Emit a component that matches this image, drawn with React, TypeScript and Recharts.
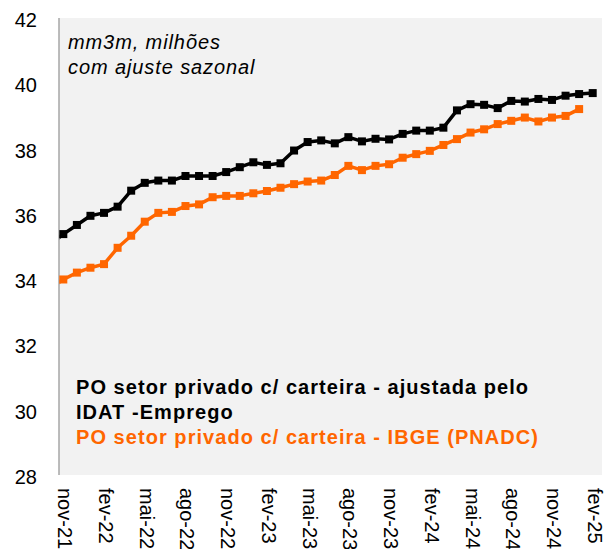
import React from "react";
import { LineChart, Line, XAxis, YAxis, CartesianGrid } from "recharts";

// Categories: one entry per month, out-21 (clipped, before axis) .. fev-25
const months = [
  "out-21", "nov-21", "dez-21",
  "jan-22", "fev-22", "mar-22", "abr-22", "mai-22", "jun-22", "jul-22", "ago-22", "set-22", "out-22", "nov-22", "dez-22",
  "jan-23", "fev-23", "mar-23", "abr-23", "mai-23", "jun-23", "jul-23", "ago-23", "set-23", "out-23", "nov-23", "dez-23",
  "jan-24", "fev-24", "mar-24", "abr-24", "mai-24", "jun-24", "jul-24", "ago-24", "set-24", "out-24", "nov-24", "dez-24",
  "jan-25", "fev-25",
];

// PO setor privado c/ carteira - ajustada pelo IDAT-Emprego (milhões)
const idatValues = [
  35.05, 35.38, 35.66, 35.94, 36.03, 36.22, 36.71, 36.95, 37.02, 37.02, 37.16,
  37.16, 37.16, 37.28, 37.43, 37.58, 37.5, 37.55, 37.94, 38.2, 38.25, 38.16,
  38.35, 38.22, 38.3, 38.28, 38.45, 38.55, 38.55, 38.64, 39.17, 39.36, 39.34,
  39.24, 39.46, 39.44, 39.52, 39.49, 39.62, 39.67, 39.7,
];

// PO setor privado c/ carteira - IBGE (PNADC) (milhões)
const ibgeValues: (number | null)[] = [
  33.7, 33.99, 34.2, 34.35, 34.46, 34.96, 35.33, 35.76, 36.03, 36.06, 36.24,
  36.29, 36.51, 36.55, 36.55, 36.63, 36.7, 36.8, 36.91, 36.99, 37.02, 37.19,
  37.47, 37.34, 37.47, 37.52, 37.72, 37.83, 37.93, 38.11, 38.29, 38.49, 38.59,
  38.75, 38.85, 38.95, 38.83, 38.95, 39.0, 39.21, null,
];

const yTicks = [28, 30, 32, 34, 36, 38, 40, 42];
const xTickIndices = [0, 3, 6, 9, 12, 15, 18, 21, 24, 27, 30, 33, 36, 39];

const noteLines = ["mm3m, milhões", "com ajuste sazonal"];
const legendIdat = ["PO setor privado c/ carteira - ajustada pelo", "IDAT -Emprego"];
const legendIbge = "PO setor privado c/ carteira - IBGE (PNADC)";

const data = months.map((m, k) => ({
  i: k - 1,
  label: m,
  idat: idatValues[k],
  ibge: ibgeValues[k],
}));

const W = 611;
const H = 549;
const PLOT_LEFT = 59;
const PLOT_TOP = 18;
const PLOT_BOTTOM = 475;
const PLOT_RIGHT = 602;
const FONT = "'Liberation Sans', Arial, Helvetica, sans-serif";
const BLACK = "#000000";
const ORANGE = "#ff6600";

const YTick = (props: any) => {
  const { y, payload } = props;
  return (
    <text x={PLOT_LEFT - 22} y={y + 9} textAnchor="end" fontSize={20} fontFamily={FONT} fill="#000">
      {payload.value}
    </text>
  );
};

const XTick = (props: any) => {
  const { x, payload } = props;
  const label = months[payload.value + 1];
  return (
    <text
      transform={`translate(${x},${PLOT_BOTTOM + 13}) rotate(90)`}
      x={0}
      y={5}
      textAnchor="start"
      fontSize={20}
      fontFamily={FONT}
      fill="#000"
    >
      {label}
    </text>
  );
};

const makeDot = (color: string) => (props: any) => {
  const { cx, cy, payload, index } = props;
  if (payload.i < 0 || cy == null || cx == null || isNaN(cy)) return <g key={`d-${index}`} />;
  return <rect key={`d-${index}`} x={cx - 4} y={cy - 4} width={8} height={8} fill={color} />;
};

export default function App() {
  return (
    <div style={{ position: "absolute", left: 0, top: 0, width: W, height: H, background: "#fff" }}>
      <LineChart
        width={W}
        height={H}
        data={data}
        margin={{ top: PLOT_TOP, right: W - PLOT_RIGHT, bottom: 0, left: 0 }}
      >
        <CartesianGrid fill="#f2f2f2" stroke="none" horizontal={false} vertical={false} />
        <XAxis
          type="number"
          dataKey="i"
          domain={[-0.317, 39.685]}
          allowDataOverflow
          ticks={xTickIndices}
          interval={0}
          axisLine={false}
          tickLine={false}
          height={H - PLOT_BOTTOM}
          tick={<XTick />}
        />
        <YAxis
          type="number"
          domain={[28, 42]}
          ticks={yTicks}
          interval={0}
          width={PLOT_LEFT}
          axisLine={{ stroke: "#a6a6a6", strokeWidth: 1.5 }}
          tickLine={false}
          tick={<YTick />}
        />
        <Line
          type="linear"
          dataKey="ibge"
          stroke={ORANGE}
          strokeWidth={3.5}
          strokeLinejoin="round"
          dot={makeDot(ORANGE)}
          activeDot={false}
          connectNulls={false}
          isAnimationActive={false}
        />
        <Line
          type="linear"
          dataKey="idat"
          stroke={BLACK}
          strokeWidth={3.5}
          strokeLinejoin="round"
          dot={makeDot(BLACK)}
          activeDot={false}
          isAnimationActive={false}
        />
      </LineChart>
      <svg
        width={W}
        height={H}
        style={{ position: "absolute", left: 0, top: 0, pointerEvents: "none" }}
      >
        <text x={68} y={49} fontSize={20} fontStyle="italic" fontFamily={FONT} letterSpacing={0.9} fill="#000">
          {noteLines[0]}
        </text>
        <text x={68} y={74} fontSize={20} fontStyle="italic" fontFamily={FONT} letterSpacing={0.9} fill="#000">
          {noteLines[1]}
        </text>
        <text x={76} y={394} fontSize={20} fontWeight="bold" fontFamily={FONT} letterSpacing={1.05} fill={BLACK}>
          {legendIdat[0]}
        </text>
        <text x={76} y={419} fontSize={20} fontWeight="bold" fontFamily={FONT} letterSpacing={1.05} fill={BLACK}>
          {legendIdat[1]}
        </text>
        <text x={76} y={444} fontSize={20} fontWeight="bold" fontFamily={FONT} letterSpacing={1.05} fill={ORANGE}>
          {legendIbge}
        </text>
      </svg>
    </div>
  );
}
